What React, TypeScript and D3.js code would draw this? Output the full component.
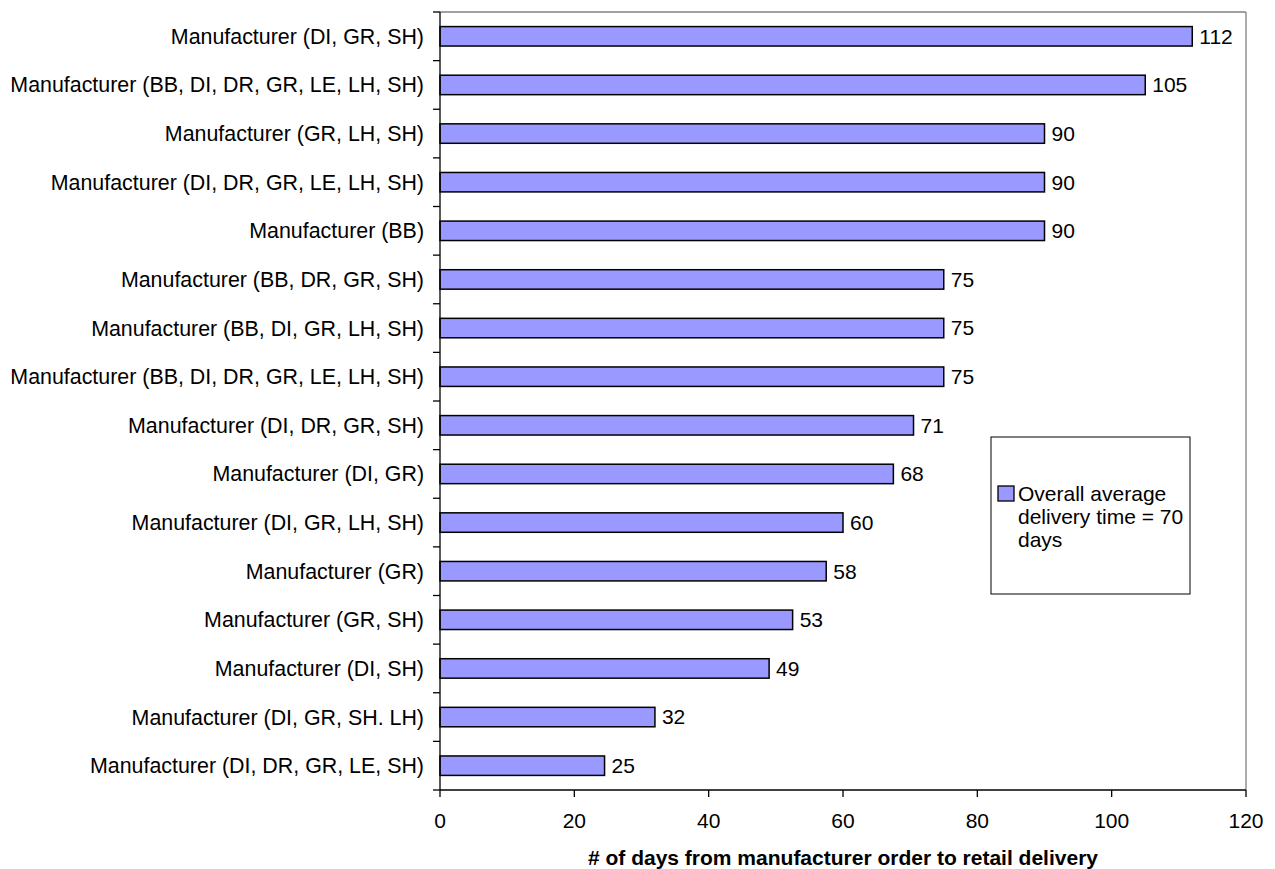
import React from "react";
import * as d3 from "d3";

const categories = [
  "Manufacturer (DI, GR, SH)",
  "Manufacturer (BB, DI, DR, GR, LE, LH, SH)",
  "Manufacturer (GR, LH, SH)",
  "Manufacturer (DI, DR, GR, LE, LH, SH)",
  "Manufacturer (BB)",
  "Manufacturer (BB, DR, GR, SH)",
  "Manufacturer (BB, DI, GR, LH, SH)",
  "Manufacturer (BB, DI, DR, GR, LE, LH, SH)",
  "Manufacturer (DI, DR, GR, SH)",
  "Manufacturer (DI, GR)",
  "Manufacturer (DI, GR, LH, SH)",
  "Manufacturer (GR)",
  "Manufacturer (GR, SH)",
  "Manufacturer (DI, SH)",
  "Manufacturer (DI, GR, SH. LH)",
  "Manufacturer (DI, DR, GR, LE, SH)",
];
const values = [112, 105, 90, 90, 90, 75, 75, 75, 70.5, 67.5, 60, 57.5, 52.5, 49, 32, 24.5];
const xTicks = [0, 20, 40, 60, 80, 100, 120];
const xTitle = "# of days from manufacturer order to retail delivery";
const legendLines = ["Overall average", "delivery time = 70", "days"];

const W = 1275;
const H = 869;
const left = 440;
const right = 1246;
const top = 12;
const bottom = 790;
const FONT = "'Liberation Sans', Arial, Helvetica, sans-serif";
const FS = 21;
const FS_CAT = 21.4;

export default function App() {
  const idx = categories.map((_, i) => i);
  const x = d3.scaleLinear().domain([0, 120]).range([left, right]);
  const y = d3.scaleBand<number>().domain(idx).range([top, bottom]).paddingInner(0.6).paddingOuter(0.3);
  const bandY = d3.scaleBand<number>().domain(idx).range([top, bottom]);
  const fmt = d3.format(".0f");
  const boundaries = d3.range(categories.length + 1).map((i) => top + i * bandY.step());

  return (
    <svg width={W} height={H} style={{ position: "absolute", left: 0, top: 0, background: "#fff" }} fontFamily={FONT}>
      <rect x={0} y={0} width={W} height={H} fill="#fff" />
      <line x1={left} x2={right} y1={top} y2={top} stroke="#808080" strokeWidth={1.3} />
      <line x1={right} x2={right} y1={top} y2={bottom} stroke="#808080" strokeWidth={1.3} />
      {categories.map((c, i) => (
        <g key={i}>
          <rect
            x={x(0)}
            y={y(i)!}
            width={x(values[i]) - x(0)}
            height={y.bandwidth()}
            fill="#9999FF"
            stroke="#000"
            strokeWidth={1.5}
          />
          <text x={x(values[i]) + 7} y={y(i)! + y.bandwidth() / 2} dy="0.35em" fontSize={FS} fill="#000">
            {fmt(values[i])}
          </text>
          <text
            x={424}
            y={bandY(i)! + bandY.bandwidth() / 2}
            dy="0.35em"
            fontSize={FS_CAT}
            textAnchor="end"
            fill="#000"
          >
            {c}
          </text>
        </g>
      ))}
      <line x1={left} x2={left} y1={top} y2={bottom} stroke="#000" strokeWidth={1.3} />
      {boundaries.map((b, i) => (
        <line key={i} x1={left - 7} x2={left} y1={b} y2={b} stroke="#000" strokeWidth={1.3} />
      ))}
      <line x1={left} x2={right} y1={bottom} y2={bottom} stroke="#000" strokeWidth={1.3} />
      {xTicks.map((t) => (
        <g key={t}>
          <line x1={x(t)} x2={x(t)} y1={bottom} y2={bottom + 7} stroke="#000" strokeWidth={1.3} />
          <text x={x(t)} y={821} dy="0.35em" fontSize={FS} textAnchor="middle" fill="#000">
            {t}
          </text>
        </g>
      ))}
      <text x={(left + right) / 2} y={858} dy="0.35em" fontSize={FS} fontWeight="bold" textAnchor="middle" fill="#000">
        {xTitle}
      </text>
      <rect x={991} y={437} width={199} height={157} fill="#fff" stroke="#000" strokeWidth={1} />
      <rect x={998} y={486} width={16} height={15} fill="#9999FF" stroke="#000" strokeWidth={1.3} />
      {legendLines.map((l, i) => (
        <text key={i} x={1018} y={494 + i * 23} dy="0.35em" fontSize={FS} fill="#000">
          {l}
        </text>
      ))}
    </svg>
  );
}
